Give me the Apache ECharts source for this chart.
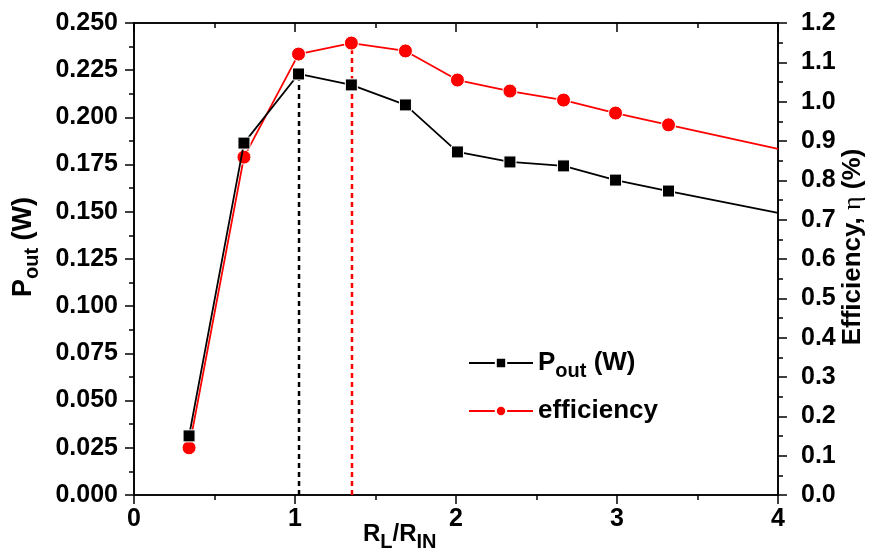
<!DOCTYPE html>
<html>
<head>
<meta charset="utf-8">
<script src="https://cdn.jsdelivr.net/npm/echarts@6/dist/echarts.min.js"></script>
<style>
  html, body { margin: 0; padding: 0; background: #fff; }
  #chart { width: 873px; height: 553px; }
</style>
</head>
<body>
<div id="chart"></div>
<script>
const ratio = [0.342, 0.683, 1.022, 1.350, 1.686, 2.009, 2.335, 2.668, 2.991, 3.320, 4.0];
const poutW = [0.0313, 0.1864, 0.2230, 0.2172, 0.2066, 0.1817, 0.1764, 0.1743, 0.1668, 0.1610, 0.1494];
const efficiency = [0.120, 0.859, 1.121, 1.149, 1.129, 1.055, 1.027, 1.004, 0.971, 0.941, 0.880];

// dashed markers at the two maxima
const peakPoutX = [1.025, 1.025];
const peakPoutY = [0, 0.223];
const peakEffX = [1.354, 1.354];
const peakEffY = [0, 1.149];

// axis ranges / tick steps
const xRange = [0, 4, 1];
const leftRange = [0, 0.25, 0.025];
const rightRange = [0, 1.2, 0.1];

const FONT = "'Liberation Sans', Arial, sans-serif";
const lastIdx = ratio.length - 1;

const chart = echarts.init(document.getElementById('chart'));

// 最后一个点在坐标轴边界上，只画线不画点
function toPoints(xs, ys) {
  return xs.map((x, i) => i === lastIdx ? { value: [x, ys[i]], symbol: 'none' } : [x, ys[i]]);
}

// 每个轴单独生成样式对象，避免共享引用
function axisLine() { return { show: true, onZero: false, lineStyle: { color: '#000', width: 1.6 } }; }
function axisTick(inside) { return { show: true, inside: inside, length: 9, lineStyle: { width: 1.5, color: '#000' } }; }
function minorTick() { return { show: true, splitNumber: 2, length: 5, lineStyle: { width: 1.5, color: '#000' } }; }

const option = {
  animation: false,
  grid: {
    left: 134, right: 95, top: 23, bottom: 58,
    show: true, borderColor: '#000', borderWidth: 1.6, backgroundColor: 'transparent'
  },
  legend: {
    data: ['pout', 'efficiency'],
    orient: 'vertical',
    left: 463,
    top: 345,
    itemWidth: 64,
    itemHeight: 13,
    itemGap: 17,
    formatter: (name) => name === 'pout' ? '{a|P}{s|out}{a| (W)}' : '{a|efficiency}',
    textStyle: {
      color: '#000',
      rich: {
        a: { fontSize: 26, fontWeight: 'bold', fontFamily: FONT, color: '#000' },
        s: { fontSize: 20, fontWeight: 'bold', fontFamily: FONT, color: '#000', padding: [16, 0, 0, 0] }
      }
    }
  },
  xAxis: [
    {
      type: 'value', position: 'bottom',
      min: xRange[0], max: xRange[1], interval: xRange[2],
      axisLine: axisLine(), axisTick: axisTick(false), minorTick: minorTick(),
      splitLine: { show: false },
      axisLabel: { color: '#000', fontSize: 25, fontWeight: 'bold', fontFamily: FONT, margin: 12 }
    },
    {
      type: 'value', position: 'top',
      min: xRange[0], max: xRange[1], interval: xRange[2],
      axisLine: axisLine(), axisTick: axisTick(true), minorTick: minorTick(),
      splitLine: { show: false },
      axisLabel: { show: false }
    }
  ],
  yAxis: [
    {
      type: 'value', position: 'left',
      min: leftRange[0], max: leftRange[1], interval: leftRange[2],
      axisLine: axisLine(), axisTick: axisTick(false), minorTick: minorTick(),
      splitLine: { show: false },
      axisLabel: {
        color: '#000', fontSize: 25, fontWeight: 'bold', fontFamily: FONT, margin: 16,
        formatter: (v) => v.toFixed(3)
      }
    },
    {
      type: 'value', position: 'right',
      min: rightRange[0], max: rightRange[1], interval: rightRange[2],
      axisLine: axisLine(), axisTick: axisTick(false), minorTick: minorTick(),
      splitLine: { show: false },
      axisLabel: {
        color: '#000', fontSize: 25, fontWeight: 'bold', fontFamily: FONT, margin: 23,
        formatter: (v) => v.toFixed(1)
      }
    }
  ],
  graphic: [
    {
      type: 'text', x: 24, y: 247, rotation: Math.PI / 2,
      style: {
        text: '{a|P}{s|out}{a| (W)}', align: 'center', verticalAlign: 'middle',
        rich: {
          a: { fontSize: 27, fontWeight: 'bold', fontFamily: FONT, fill: '#000' },
          s: { fontSize: 20, fontWeight: 'bold', fontFamily: FONT, fill: '#000', padding: [16, 0, 0, 0] }
        }
      }
    },
    {
      type: 'text', x: 853, y: 247, rotation: Math.PI / 2,
      style: {
        text: '{a|Efficiency, }{e|η}{a| (%)}', align: 'center', verticalAlign: 'middle',
        rich: {
          a: { fontSize: 26, fontWeight: 'bold', fontFamily: FONT, fill: '#000' },
          e: { fontSize: 26, fontWeight: 'normal', fontFamily: "'Liberation Serif', serif", fill: '#000' }
        }
      }
    },
    {
      type: 'text', x: 363, y: 534,
      style: {
        text: '{a|R}{s|L}{a|/R}{s|IN}', align: 'left', verticalAlign: 'middle',
        rich: {
          a: { fontSize: 24, fontWeight: 'bold', fontFamily: FONT, fill: '#000' },
          s: { fontSize: 20, fontWeight: 'bold', fontFamily: FONT, fill: '#000', padding: [16, 0, 0, 0] }
        }
      }
    }
  ],
  series: [
    {
      name: 'peakPout', type: 'line', xAxisIndex: 1, yAxisIndex: 0,
      data: peakPoutX.map((x, i) => [x, peakPoutY[i]]),
      symbol: 'none', z: 1, silent: true,
      lineStyle: { color: '#000', width: 2.5, type: [5, 4] }
    },
    {
      name: 'peakEff', type: 'line', xAxisIndex: 0, yAxisIndex: 1,
      data: peakEffX.map((x, i) => [x, peakEffY[i]]),
      symbol: 'none', z: 1, silent: true,
      lineStyle: { color: '#f00', width: 2.5, type: [5, 4] }
    },
    {
      name: 'pout', type: 'line', xAxisIndex: 0, yAxisIndex: 0,
      data: toPoints(ratio, poutW),
      symbol: 'rect', symbolSize: 12, showAllSymbol: true, z: 3,
      lineStyle: { color: '#000', width: 1.8 },
      itemStyle: { color: '#000', borderColor: '#fff', borderWidth: 1 }
    },
    {
      name: 'efficiency', type: 'line', xAxisIndex: 0, yAxisIndex: 1,
      data: toPoints(ratio, efficiency),
      symbol: 'circle', symbolSize: 14, showAllSymbol: true, z: 2,
      lineStyle: { color: '#f00', width: 1.8 },
      itemStyle: { color: '#f00', borderColor: '#fff', borderWidth: 1 }
    }
  ]
};

chart.setOption(option);
</script>
</body>
</html>
